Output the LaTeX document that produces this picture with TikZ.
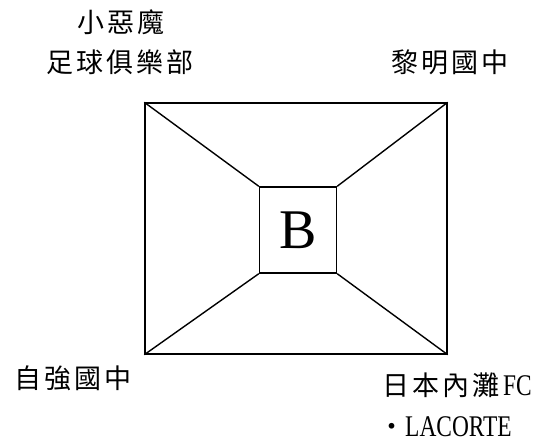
\documentclass[tikz,border=0pt]{standalone}
\usepackage{fontspec}
\setmainfont{Liberation Serif}
\newfontfamily\cjk[LetterSpace=11]{Noto Sans CJK TC}
\newfontfamily\latn[FakeStretch=0.78]{Liberation Serif}
\begin{document}
\begin{tikzpicture}[x=1pt,y=-1pt,
  lbl/.style={inner sep=0pt,anchor=base west,font=\fontsize{27}{30}\selectfont},
  edge/.style={line width=1.4pt}]
\useasboundingbox (0,0) rectangle (556,443);
\node[draw,line width=1.4pt,minimum width=302pt,minimum height=251pt,inner sep=0pt] (outer) at (296,228.5) {};
\node[draw,line width=1.4pt,minimum width=77pt,minimum height=86pt,inner sep=0pt,font=\fontsize{56}{60}\selectfont] (B) at (298,230) {B};
\draw[edge] (outer.north west) -- (B.north west);
\draw[edge] (outer.north east) -- (B.north east);
\draw[edge] (outer.south west) -- (B.south west);
\draw[edge] (outer.south east) -- (B.south east);
\node[lbl] (t1) at (77,33) {\cjk 小惡魔};
\node[lbl] (t2) at (46,73) {\cjk 足球俱樂部};
\node[lbl] (t3) at (391,73) {\cjk 黎明國中};
\node[lbl] (t4) at (14,388) {\cjk 自強國中};
\node[lbl] (t5) at (382,395) {\cjk 日本內灘\hspace{4pt}{\latn\fontsize{30}{32}\selectfont FC}};
\node[lbl] (t6) at (378,436) {{\cjk\smash{・}}{\latn\fontsize{30}{32}\selectfont LACORTE}};
\end{tikzpicture}
\end{document}
